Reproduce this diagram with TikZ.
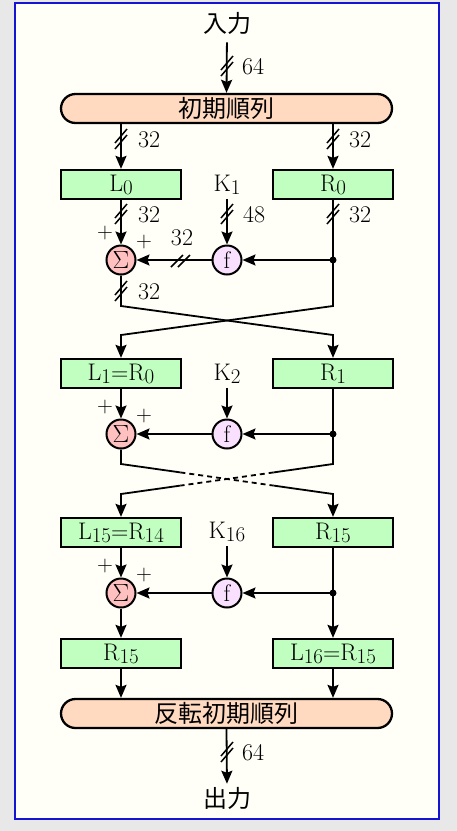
\documentclass[tikz,border=0pt]{standalone}
\usepackage{fontspec}
\newfontfamily\cjk{Noto Sans CJK JP}
\usetikzlibrary{arrows.meta,calc}
\definecolor{bgg}{RGB}{232,232,232}
\definecolor{ivory}{RGB}{255,255,248}
\definecolor{frameblue}{RGB}{20,20,210}
\definecolor{grn}{RGB}{192,255,192}
\definecolor{peach}{RGB}{255,218,192}
\definecolor{sigfill}{RGB}{255,192,192}
\definecolor{ffill}{RGB}{250,224,255}
\newcommand\sbx[1]{\raisebox{-3pt}{\fontsize{21}{21}\selectfont #1}}
\begin{document}
\begin{tikzpicture}[x=1pt,y=-1pt,
  every node/.style={font=\fontsize{24}{28}\selectfont, inner sep=0pt},
  box/.style={draw, line width=2.3pt, fill=grn, minimum width=120pt, minimum height=29pt},
  perm/.style={draw, line width=2.3pt, fill=peach, minimum width=331pt, minimum height=29pt, rounded corners=14.5pt},
  sig/.style={circle, draw, line width=2pt, fill=sigfill, minimum size=29pt, font=\fontsize{27}{28}\selectfont},
  fun/.style={circle, draw, line width=2pt, fill=ffill, minimum size=29pt},
  conn/.style={line width=1.8pt},
  arr/.style={conn, -{Stealth[length=13pt,width=11pt,inset=2pt]}},
  lbl/.style={anchor=west},
  pl/.style={font=\fontsize{22}{24}\selectfont},
  vslash/.pic={\draw[line width=1.5pt] (-6,4) -- (6,-10); \draw[line width=1.5pt] (-6,10) -- (6,-4);},
  hslash/.pic={\draw[line width=1.5pt] (-10,6) -- (2,-6); \draw[line width=1.5pt] (-3,6) -- (9,-6);}
]
\useasboundingbox (0,0) rectangle (457,831);
\fill[bgg] (0,0) rectangle (457,831);
\draw[frameblue, line width=2.2pt, fill=ivory] (15,3) rectangle (439,819);

% top
\node (in) at (227,23) {\cjk 入力};
\node[perm] (ip) at (226.5,108.5) {\cjk 初期順列};
\draw[arr, shorten <=8pt] (in.south) -- (ip.north);
\pic at (227,66) {vslash};
\node[lbl] at (242,67) {64};

% round 1
\node[box] (L0) at (121,184.5) {L\sbx{0}};
\node[box] (R0) at (333,184.5) {R\sbx{0}};
\node (K1) at (227,185) {K\sbx{1}};
\draw[arr] (L0 |- ip.south) -- (L0.north);
\draw[arr] (R0 |- ip.south) -- (R0.north);
\pic at (121,139) {vslash};
\pic at (333,139) {vslash};
\node[lbl] at (138,140) {32};
\node[lbl] at (349,140) {32};

\node[sig] (S1) at (121,260) {$\Sigma$};
\node[fun] (f1) at (227,260) {f};
\coordinate (d1) at (333,260);
\draw[arr] (L0.south) -- (S1.north);
\draw[arr, shorten <=4pt] (K1.south) -- (f1.north);
\draw[arr] (f1.west) -- (S1.east);
\draw[arr] (d1) -- (f1.east);
\fill (d1) circle (3.5pt);
\pic at (121,214) {vslash};
\pic at (227,214) {vslash};
\pic at (333,214) {vslash};
\node[lbl] at (138,215) {32};
\node[lbl] at (243,215) {48};
\node[lbl] at (349,215) {32};
\pic at (181,261) {hslash};
\node at (182,238) {32};
\node[pl] at (105,233) {+};
\node[pl] at (144,242) {+};
\pic at (121,291) {vslash};
\node[lbl] at (138,292) {32};

\node[box] (L1) at (121,373.5) {L\sbx{1}=R\sbx{0}};
\node[box] (R1) at (333,373.5) {R\sbx{1}};
\coordinate (a1) at (121,306);
\coordinate (b1) at (333,306);
\coordinate (c1l) at (121,335);
\coordinate (c1r) at (333,335);
\draw[arr] (S1.south) -- (a1) -- (c1r) -- (R1.north);
\draw[arr] (R0.south) -- (b1) -- (c1l) -- (L1.north);

% round 2
\node (K2) at (227,374) {K\sbx{2}};
\node[sig] (S2) at (121,434) {$\Sigma$};
\node[fun] (f2) at (227,434) {f};
\coordinate (d2) at (333,434);
\draw[arr] (L1.south) -- (S2.north);
\draw[arr, shorten <=4pt] (K2.south) -- (f2.north);
\draw[arr] (f2.west) -- (S2.east);
\draw[arr] (d2) -- (f2.east);
\fill (d2) circle (3.5pt);
\node[pl] at (105,407) {+};
\node[pl] at (144,416) {+};

\node[box] (L15) at (121,532.5) {L\sbx{15}=R\sbx{14}};
\node[box] (R15) at (333,532.5) {R\sbx{15}};
\coordinate (a2) at (121,464);
\coordinate (b2) at (333,464);
\coordinate (c2l) at (121,494);
\coordinate (c2r) at (333,494);
\draw[conn] (S2.south) -- (a2) -- ($(a2)!0.28!(c2r)$);
\draw[conn, dash pattern=on 5pt off 4pt] ($(a2)!0.28!(c2r)$) -- ($(a2)!0.72!(c2r)$);
\draw[arr] ($(a2)!0.72!(c2r)$) -- (c2r) -- (R15.north);
\draw[conn] (R1.south) -- (b2) -- ($(b2)!0.28!(c2l)$);
\draw[conn, dash pattern=on 5pt off 4pt] ($(b2)!0.28!(c2l)$) -- ($(b2)!0.72!(c2l)$);
\draw[arr] ($(b2)!0.72!(c2l)$) -- (c2l) -- (L15.north);

% round 16
\node (K16) at (227,532) {K\sbx{16}};
\node[sig] (S3) at (121,593) {$\Sigma$};
\node[fun] (f3) at (227,593) {f};
\coordinate (d3) at (333,593);
\draw[arr] (L15.south) -- (S3.north);
\draw[arr, shorten <=4pt] (K16.south) -- (f3.north);
\draw[arr] (f3.west) -- (S3.east);
\draw[arr] (d3) -- (f3.east);
\node[pl] at (105,566) {+};
\node[pl] at (144,575) {+};

\node[box] (R15b) at (121,653.5) {R\sbx{15}};
\node[box] (L16) at (333,653.5) {L\sbx{16}=R\sbx{15}};
\draw[arr] (S3.south) -- (R15b.north);
\draw[arr] (R15.south) -- (L16.north);
\fill (d3) circle (3.5pt);

% final
\node[perm] (fp) at (226.5,713.5) {\cjk 反転初期順列};
\draw[arr] (R15b.south) -- (R15b |- fp.north);
\draw[arr] (L16.south) -- (L16 |- fp.north);
\node (out) at (227,798) {\cjk 出力};
\draw[arr, shorten >=3pt] (fp.south) -- (out.north);
\pic at (227,752) {vslash};
\node[lbl] at (242,753) {64};
\end{tikzpicture}
\end{document}
